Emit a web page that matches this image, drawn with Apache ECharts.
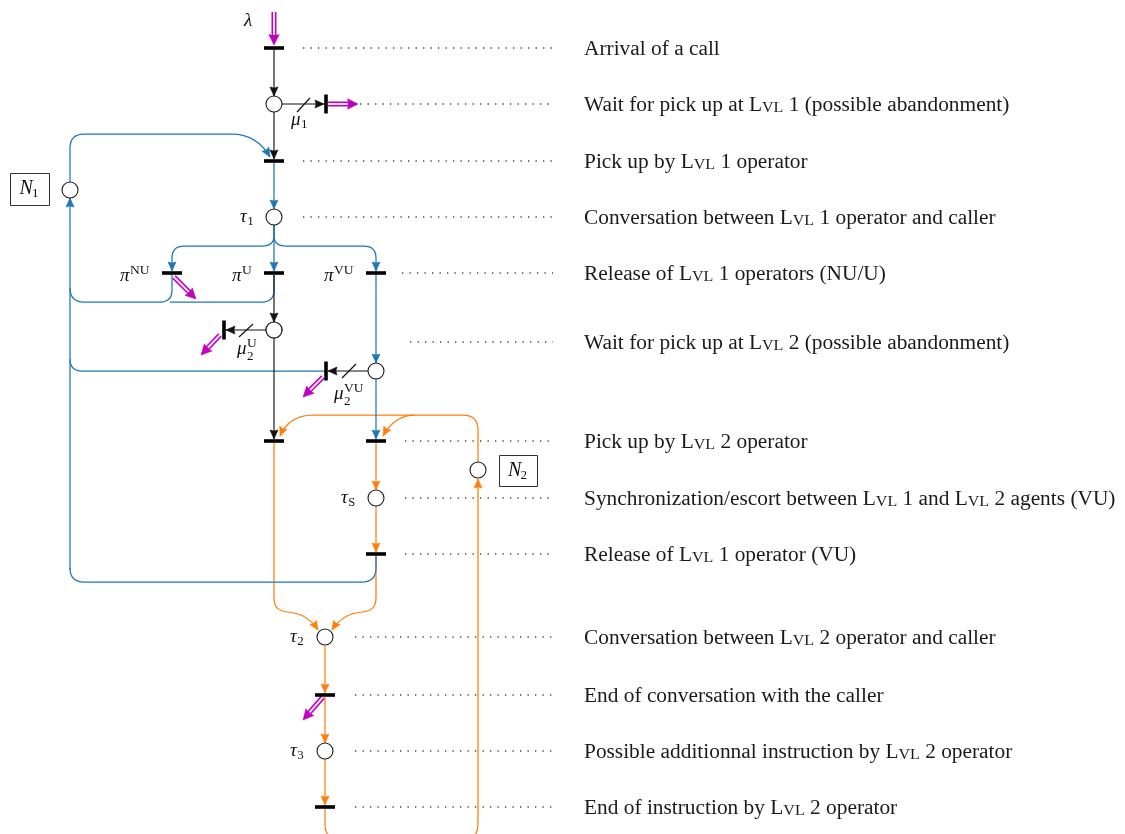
<!DOCTYPE html>
<html><head><meta charset="utf-8">
<script src="https://cdn.jsdelivr.net/npm/echarts@6/dist/echarts.min.js"></script>
<style>html,body{margin:0;padding:0;background:#fff}#c{width:1125px;height:834px}</style>
</head><body><div id="c"></div>
<script>
// ---------------- DATA ----------------
const stepLabels = [
  'Arrival of a call',
  'Wait for pick up at Lvl 1 (possible abandonment)',
  'Pick up by Lvl 1 operator',
  'Conversation between Lvl 1 operator and caller',
  'Release of Lvl 1 operators (NU/U)',
  'Wait for pick up at Lvl 2 (possible abandonment)',
  'Pick up by Lvl 2 operator',
  'Synchronization/escort between Lvl 1 and Lvl 2 agents (VU)',
  'Release of Lvl 1 operator (VU)',
  'Conversation between Lvl 2 operator and caller',
  'End of conversation with the caller',
  'Possible additionnal instruction by Lvl 2 operator',
  'End of instruction by Lvl 2 operator'
];
const stepY = [48, 104, 161, 217, 273, 342, 441, 498, 554, 637, 695, 751, 807];
const guideStartX = [303, 360, 303, 303, 402, 410, 405, 405, 405, 355, 355, 355, 355];

// places (circles)
const placeX = [274, 274, 70, 274, 274, 376, 478, 376, 325, 325];
const placeY = [104, 217, 190, 330, 330, 371, 470, 498, 637, 751];
// transitions (horizontal bars)
const transX = [274, 274, 172, 274, 376, 274, 376, 376, 325, 325];
const transY = [48, 161, 273, 273, 273, 441, 441, 554, 695, 807];
// abandonment transitions (vertical bars)
const abandonX = [326, 224, 326];
const abandonY = [104, 330, 371];

// arcs: [path, hasArrow]
const blackArcs = [
  ['M 274 50 L 274 96', 1],
  ['M 282 104 L 324 104', 1],
  ['M 274 112 L 274 159', 1],
  ['M 274 275 L 274 322', 1],
  ['M 266 330 L 226 330', 1],
  ['M 274 338 L 274 439', 1],
  ['M 368 371 L 328 371', 1],
  ['M 297 112 L 310 98', 0],
  ['M 239 337 L 253 324', 0],
  ['M 342 378 L 356 364', 0]
];
const orangeArcs = [
  ['M 478 462 L 478 430 Q 478 415 463 415 L 312 415 C 296 415 285 424 280 436', 1],
  ['M 415 415 C 398 415 389 425 383 436', 1],
  ['M 376 443 L 376 490', 1],
  ['M 376 506 L 376 552', 1],
  ['M 274 443 L 274 598 C 274 608 279 611 288 612 C 300 613 311 619 318 630', 1],
  ['M 376 556 L 376 598 C 376 608 371 611 362 612 C 350 613 339 619 332 630', 1],
  ['M 325 646 L 325 693', 1],
  ['M 325 697 L 325 743', 1],
  ['M 325 759 L 325 805', 1],
  ['M 325 809 L 325 824 Q 325 840 341 840 L 462 840 Q 478 840 478 824 L 478 479', 1]
];
const blueArcs = [
  ['M 70 182 L 70 148 Q 70 134 84 134 L 232 134 C 250 134 262 143 270 157', 1],
  ['M 274 163 L 274 209', 1],
  ['M 274 225 L 274 236 Q 274 246 262 246 L 184 246 Q 172 246 172 258 L 172 271', 1],
  ['M 274 225 L 274 271', 1],
  ['M 274 225 L 274 236 Q 274 246 286 246 L 364 246 Q 376 246 376 258 L 376 271', 1],
  ['M 172 275 L 172 290 Q 172 302 160 302 L 84 302 Q 70 302 70 288', 0],
  ['M 274 275 L 274 290 Q 274 302 262 302 L 170 302', 0],
  ['M 70 570 L 70 198', 1],
  ['M 376 556 L 376 568 Q 376 582 362 582 L 84 582 Q 70 582 70 568', 0],
  ['M 324 371 L 82 371 Q 70 371 70 359', 0],
  ['M 376 275 L 376 363', 1],
  ['M 376 379 L 376 439', 1]
];
// magenta double arrows: [x1, y1, x2, y2]
const flowArrows = [
  [274, 12, 274, 45],
  [328, 104, 358, 104],
  [174, 277, 196, 299],
  [220, 335, 201, 355],
  [323, 377, 303, 397],
  [323, 697, 303, 720]
];
// math labels: [base, sub, sup, leftX, midY]
const mathLabels = [
  ['λ', '', '', 244, 21],
  ['μ', '1', '', 291, 120],
  ['τ', '1', '', 240, 217],
  ['π', '', 'NU', 120, 276],
  ['π', '', 'U', 232, 276],
  ['π', '', 'VU', 324, 276],
  ['μ', '2', 'U', 237, 349],
  ['μ', '2', 'VU', 334, 394],
  ['τ', 'S', '', 341, 498],
  ['τ', '2', '', 290, 637],
  ['τ', '3', '', 290, 751]
];
// resource boxes: [name, sub, x0, y0, x1, y1]
const resourceBoxes = [
  ['N', '1', 10, 173, 49, 205],
  ['N', '2', 499, 455, 537, 486]
];

// ---------------- RENDER ----------------
const BLUE = '#1f77b4', ORANGE = '#ff7f0e', MAGENTA = '#bf00bf';
const SERIF = "'Liberation Serif', 'DejaVu Serif', serif";
const mctx = document.createElement('canvas').getContext('2d');
function textW(font, s) { mctx.font = font; return mctx.measureText(s).width; }

function convertPath(api, str) {
  const t = str.trim().split(/[\s,]+/);
  const out = []; const pts = [];
  let i = 0;
  while (i < t.length) {
    const c = t[i++];
    const n = { M: 1, L: 1, Q: 2, C: 3 }[c];
    let s = c;
    for (let k = 0; k < n; k++) {
      const p = api.coord([+t[i], +t[i + 1]]); i += 2;
      s += ' ' + p[0].toFixed(2) + ' ' + p[1].toFixed(2);
      pts.push(p);
    }
    out.push(s);
  }
  return { d: out.join(' '), pts };
}
function arrowHead(tip, from, len, hw, color, notch) {
  let dx = tip[0] - from[0], dy = tip[1] - from[1];
  const L = Math.hypot(dx, dy) || 1; dx /= L; dy /= L;
  const bx = tip[0] - dx * len, by = tip[1] - dy * len;
  const k = notch == null ? 0.9 : notch;
  const mx = tip[0] - dx * len * k, my = tip[1] - dy * len * k;
  return {
    type: 'polygon',
    shape: { points: [tip, [bx - dy * hw, by + dx * hw], [mx, my], [bx + dy * hw, by - dx * hw]] },
    style: { fill: color, stroke: color, lineWidth: 0.6 }
  };
}
function arcSeries(list, color, width, z) {
  return {
    type: 'custom', coordinateSystem: 'cartesian2d', z: z, silent: true, clip: false,
    data: list.map(() => [0, 0]),
    renderItem: function (params, api) {
      const a = list[params.dataIndex];
      const r = convertPath(api, a[0]);
      const children = [{ type: 'path', shape: { pathData: r.d }, style: { stroke: color, lineWidth: width, fill: null } }];
      if (a[1]) {
        const n = r.pts.length;
        children.push(arrowHead(r.pts[n - 1], r.pts[n - 2], 9, 4, color, 0.88));
      }
      return { type: 'group', children };
    }
  };
}

const richStyles = {
  n: { fontFamily: SERIF, fontSize: 20, fill: '#1a1a1a', color: '#1a1a1a', verticalAlign: 'bottom' },
  sc: { fontFamily: SERIF, fontSize: 15, fill: '#1a1a1a', color: '#1a1a1a', verticalAlign: 'bottom' }
};
function toRich(s) {
  return s.split('Lvl').map(p => p ? '{n|' + p + '}' : '').join('{n|L}{sc|VL}');
}

const chart = echarts.init(document.getElementById('c'), null, { renderer: 'canvas' });
chart.setOption({
  animation: false,
  backgroundColor: '#fff',
  grid: { left: 0, right: 0, top: 0, bottom: 0 },
  xAxis: { type: 'value', min: 0, max: 1125, show: false },
  yAxis: { type: 'value', min: 0, max: 834, inverse: true, show: false },
  series: [
    // dotted guides + step descriptions
    {
      type: 'custom', coordinateSystem: 'cartesian2d', z: 1, silent: true, clip: false,
      data: stepY.map((y, i) => [guideStartX[i], y]),
      renderItem: function (params, api) {
        const i = params.dataIndex;
        const p0 = api.coord([guideStartX[i], stepY[i]]);
        const p1 = api.coord([553, stepY[i]]);
        const pt = api.coord([584, stepY[i]]);
        return {
          type: 'group', children: [
            { type: 'line', shape: { x1: p0[0], y1: p0[1], x2: p1[0], y2: p1[1] },
              style: { stroke: '#444', lineWidth: 1.3, lineDash: [1.3, 6.2] } },
            { type: 'text', x: pt[0], y: pt[1] + 2, scaleX: 1.068, scaleY: 1.0,
              style: { text: toRich(stepLabels[i]), rich: richStyles, verticalAlign: 'middle', align: 'left' } }
          ]
        };
      }
    },
    arcSeries(orangeArcs, ORANGE, 1.25, 2),
    arcSeries(blueArcs, BLUE, 1.25, 3),
    arcSeries(blackArcs, '#111', 1.15, 4),
    // magenta flow arrows
    {
      type: 'custom', coordinateSystem: 'cartesian2d', z: 5, silent: true, clip: false,
      data: flowArrows.map(() => [0, 0]),
      renderItem: function (params, api) {
        const f = flowArrows[params.dataIndex];
        const a = api.coord([f[0], f[1]]), b = api.coord([f[2], f[3]]);
        let dx = b[0] - a[0], dy = b[1] - a[1];
        const L = Math.hypot(dx, dy); dx /= L; dy /= L;
        const e1 = [b[0] - dx * 8, b[1] - dy * 8];
        const e2 = [b[0] - dx * 10, b[1] - dy * 10];
        return {
          type: 'group', children: [
            { type: 'line', shape: { x1: a[0], y1: a[1], x2: e1[0], y2: e1[1] }, style: { stroke: MAGENTA, lineWidth: 5 } },
            { type: 'line', shape: { x1: a[0] - dx * 0.5, y1: a[1] - dy * 0.5, x2: e2[0], y2: e2[1] }, style: { stroke: '#f6e0f6', lineWidth: 2 } },
            arrowHead(b, a, 10.5, 5.2, MAGENTA, 0.85)
          ]
        };
      }
    },
    // places
    {
      type: 'scatter', z: 6, silent: true, symbol: 'circle', symbolSize: 16,
      itemStyle: { color: '#fff', borderColor: '#1a1a1a', borderWidth: 1.1, opacity: 1 },
      data: placeX.map((x, i) => [x, placeY[i]])
    },
    // transitions
    {
      type: 'scatter', z: 7, silent: true, symbol: 'rect', symbolSize: [20, 3.6],
      itemStyle: { color: '#000', opacity: 1 },
      data: transX.map((x, i) => [x, transY[i]])
    },
    {
      type: 'scatter', z: 7, silent: true, symbol: 'rect', symbolSize: [3.6, 19],
      itemStyle: { color: '#000', opacity: 1 },
      data: abandonX.map((x, i) => [x, abandonY[i]])
    },
    // math labels
    {
      type: 'custom', coordinateSystem: 'cartesian2d', z: 8, silent: true, clip: false,
      data: mathLabels.map(() => [0, 0]),
      renderItem: function (params, api) {
        const m = mathLabels[params.dataIndex];
        const p = api.coord([m[3], m[4]]);
        const baseFont = 'italic 19px ' + SERIF;
        const w = textW(baseFont, m[0]);
        const ch = [{ type: 'text', x: p[0], y: p[1], style: { text: m[0], font: baseFont, fill: '#111', verticalAlign: 'middle', align: 'left' } }];
        const sx = p[0] + w + 0.5;
        if (m[1]) ch.push({ type: 'text', x: sx, y: p[1] + (m[2] ? 8 : 5), style: { text: m[1], font: (m[1] === 'S' ? '12.5px ' : '13px ') + SERIF, fill: '#111', verticalAlign: 'middle', align: 'left' } });
        if (m[2]) ch.push({ type: 'text', x: sx, y: p[1] - 6, style: { text: m[2], font: '13.5px ' + SERIF, fill: '#111', verticalAlign: 'middle', align: 'left' } });
        return { type: 'group', children: ch };
      }
    },
    // resource boxes
    {
      type: 'custom', coordinateSystem: 'cartesian2d', z: 8, silent: true, clip: false,
      data: resourceBoxes.map(() => [0, 0]),
      renderItem: function (params, api) {
        const b = resourceBoxes[params.dataIndex];
        const p0 = api.coord([b[2], b[3]]), p1 = api.coord([b[4], b[5]]);
        const cx = (p0[0] + p1[0]) / 2, cy = (p0[1] + p1[1]) / 2;
        const baseFont = 'italic 20px ' + SERIF;
        const subFont = '13px ' + SERIF;
        const w = textW(baseFont, b[0]) + textW(subFont, b[1]);
        const x0 = cx - w / 2;
        return {
          type: 'group', children: [
            { type: 'rect', shape: { x: p0[0] + 0.5, y: p0[1] + 0.5, width: p1[0] - p0[0], height: p1[1] - p0[1] },
              style: { fill: '#fff', stroke: '#333', lineWidth: 1 } },
            { type: 'text', x: x0, y: cy, style: { text: b[0], font: baseFont, fill: '#111', verticalAlign: 'middle', align: 'left' } },
            { type: 'text', x: x0 + textW(baseFont, b[0]) - 1, y: cy + 5, style: { text: b[1], font: subFont, fill: '#111', verticalAlign: 'middle', align: 'left' } }
          ]
        };
      }
    }
  ]
});
</script>
</body></html>
